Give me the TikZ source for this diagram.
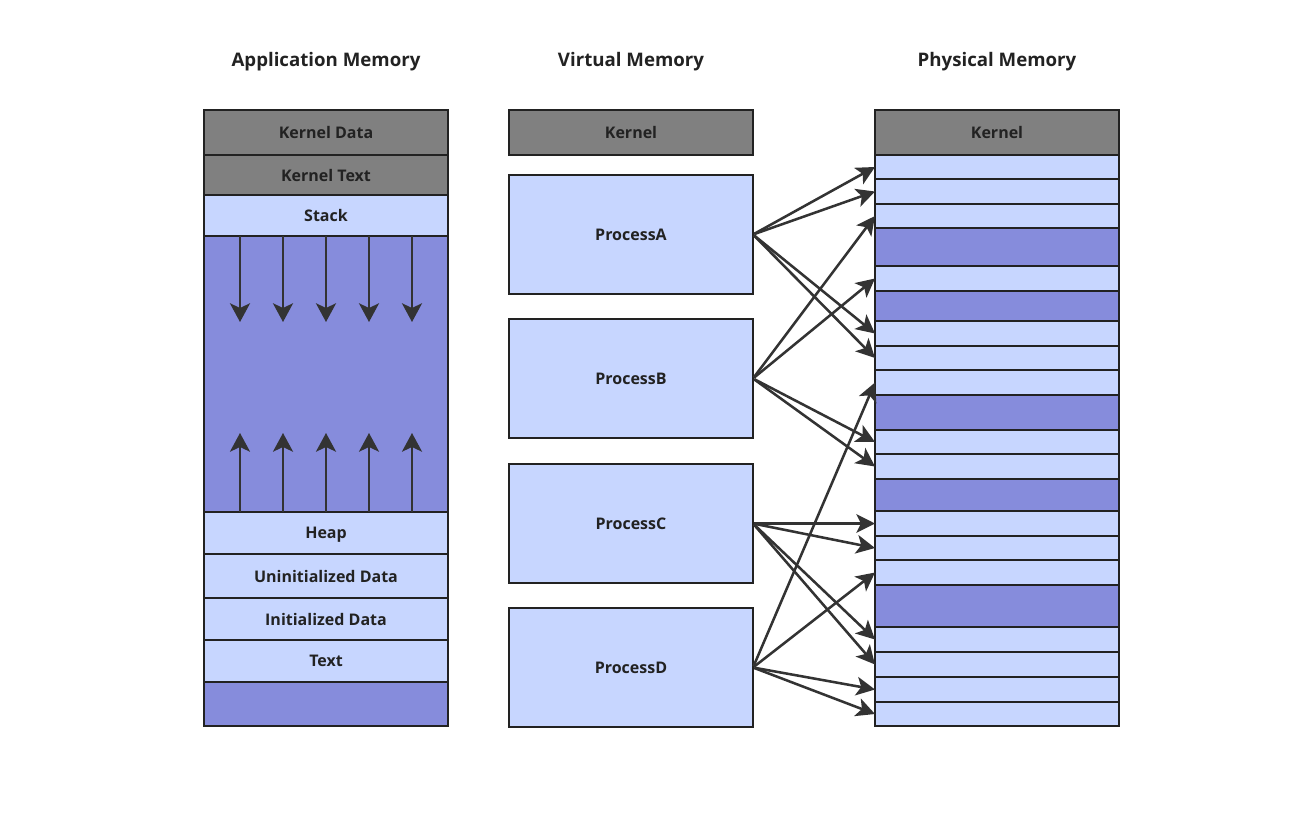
\documentclass[tikz,border=0pt]{standalone}
\usepackage{fontspec}
\setmainfont{Open Sans}
\usetikzlibrary{arrows.meta, positioning}

\definecolor{kernelgray}{HTML}{808080}
\definecolor{usedblue}{HTML}{C7D6FF}
\definecolor{freeblue}{HTML}{868CDC}
\definecolor{edgeblack}{HTML}{222222}
\definecolor{arrowgray}{HTML}{333333}

\begin{document}
\begin{tikzpicture}[
    x=0.75pt, y=-0.75pt,
    font=\bfseries\fontsize{12}{14}\selectfont,
    text=edgeblack,
    heading/.style={font=\bfseries\fontsize{14}{17}\selectfont, text depth=0pt},
    seg/.style={rectangle, draw=edgeblack, line width=2pt, minimum width=183pt, inner sep=0pt, outer sep=0pt, text depth=0pt},
    kernelseg/.style={seg, fill=kernelgray},
    usedseg/.style={seg, fill=usedblue},
    freeseg/.style={seg, fill=freeblue},
    growarrow/.style={-{Stealth[length=14pt, width=15pt, inset=3.5pt]}, line width=1.9pt, draw=arrowgray},
    maparrow/.style={-{Stealth[length=14pt, width=14pt, inset=3.5pt]}, line width=1.9pt, draw=arrowgray, shorten <=1pt}
]
\useasboundingbox (0,0) rectangle (1300,818);

% Titles
\node[heading] (apptitle) at (326,59) {Application Memory};
\node[heading] (virttitle) at (631,59) {Virtual Memory};
\node[heading] (phystitle) at (997,59) {Physical Memory};

% Application memory
\node[kernelseg, minimum height=33.75pt] (kdata) at (326,132.5) {Kernel Data};
\node[kernelseg, minimum height=30pt, below=0pt of kdata] (ktext) {Kernel Text};
\node[usedseg, minimum height=30.75pt, below=0pt of ktext] (stack) {Stack};
\node[freeseg, minimum height=207pt, below=0pt of stack] (gap) {};
\node[usedseg, minimum height=31.5pt, below=0pt of gap] (heap) {Heap};
\node[usedseg, minimum height=33pt, below=0pt of heap] (bss) {Uninitialized Data};
\node[usedseg, minimum height=31.5pt, below=0pt of bss] (data) {Initialized Data};
\node[usedseg, minimum height=31.5pt, below=0pt of data] (text) {Text};
\node[freeseg, minimum height=33pt, below=0pt of text] (bottom) {};

\foreach \dx in {-86,-43,0,43,86} {
    \draw[growarrow] ([xshift=\dx*0.75pt]gap.north) -- ++(0,86);
    \draw[growarrow] ([xshift=\dx*0.75pt]gap.south) -- ++(0,-79);
}

% Virtual memory
\node[kernelseg, minimum height=33.75pt] (vkernel) at (631,132.5) {Kernel};
\node[usedseg, minimum height=89.25pt, below=15pt of vkernel] (procA) {ProcessA};
\node[usedseg, minimum height=89.25pt, below=18.75pt of procA] (procB) {ProcessB};
\node[usedseg, minimum height=89.25pt, below=19.5pt of procB] (procC) {ProcessC};
\node[usedseg, minimum height=89.25pt, below=18.75pt of procC] (procD) {ProcessD};

% Physical memory
\node[kernelseg, minimum height=33.75pt] (physk) at (997,132.5) {Kernel};
\foreach \h/\s [count=\i, remember=\i as \j (initially k)] in
    {24/usedseg, 25/usedseg, 24/usedseg, 38/freeseg, 25/usedseg, 30/freeseg, 25/usedseg,
     24/usedseg, 25/usedseg, 35/freeseg, 24/usedseg, 25/usedseg, 32/freeseg, 25/usedseg,
     24/usedseg, 25/usedseg, 42/freeseg, 25/usedseg, 25/usedseg, 25/usedseg, 24/usedseg}
    \node[\s, minimum height=\h*0.75pt, below=0pt of phys\j] (phys\i) {};

% Page mapping
\foreach \v/\p in {procA/1, procA/2, procA/7, procA/8,
                   procB/3, procB/5, procB/11, procB/12,
                   procC/14, procC/15, procC/18, procC/19,
                   procD/9, procD/16, procD/20, procD/21}
    \draw[maparrow] (\v.east) -- (phys\p.west);

\end{tikzpicture}
\end{document}
